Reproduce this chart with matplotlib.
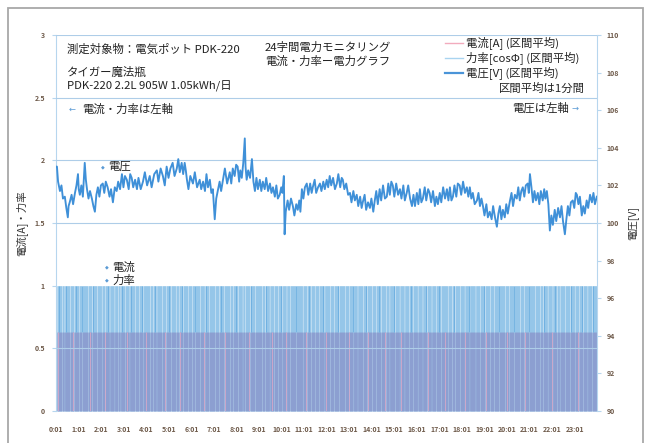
import matplotlib.pyplot as plt
import numpy as np
from matplotlib.patches import Rectangle

plt.rcParams['font.family'] = ['Noto Sans CJK JP', 'DejaVu Sans']

W, H = 651, 443

# voltage, 1-minute averages: (minute of day, V)
voltage_readings = [
    (1, 103.0), (3, 103.0), (6, 102.2), (11, 101.7), (15, 102.0), (19, 101.3), (24, 101.4),
    (28, 100.8), (32, 100.3), (34, 100.9), (37, 101.1), (42, 101.5), (46, 101.0), (51, 101.6),
    (55, 102.0), (59, 102.6), (61, 101.8), (64, 101.5), (68, 102.0), (72, 101.4), (77, 103.2),
    (80, 102.3), (83, 101.8), (87, 101.3), (91, 101.7), (96, 101.3), (100, 100.9), (104, 100.6),
    (108, 101.5), (112, 101.9), (116, 101.4), (120, 102.0), (125, 102.1), (129, 101.6),
    (133, 102.2), (138, 101.9), (143, 101.4), (147, 101.8), (152, 101.1), (157, 101.9),
    (162, 101.7), (166, 102.2), (171, 101.8), (176, 102.6), (180, 101.9), (184, 102.5),
    (189, 102.3), (194, 101.8), (198, 102.6), (202, 102.4), (206, 101.9), (211, 102.3),
    (216, 101.8), (220, 102.4), (226, 101.8), (232, 102.2), (237, 102.7), (243, 102.0),
    (250, 102.5), (255, 101.9), (262, 102.6), (269, 102.8), (273, 102.2), (279, 102.9),
    (285, 102.5), (290, 102.0), (295, 103.0), (300, 102.4), (305, 102.9), (311, 103.2),
    (316, 102.5), (322, 102.9), (326, 103.4), (330, 102.7), (335, 103.2), (339, 102.6),
    (343, 103.2), (346, 102.8), (349, 102.3), (353, 101.8), (358, 102.5), (365, 102.1),
    (370, 102.7), (376, 101.9), (383, 102.3), (387, 101.8), (392, 102.2), (397, 101.7),
    (401, 102.6), (405, 101.9), (410, 102.3), (414, 101.6), (418, 101.8), (423, 100.2),
    (427, 101.3), (431, 101.7), (436, 102.2), (440, 101.7), (445, 102.3), (450, 102.9),
    (456, 102.1), (463, 102.7), (467, 102.1), (471, 102.9), (476, 102.5), (480, 103.1),
    (484, 103.0), (488, 102.2), (491, 102.8), (495, 102.4), (499, 103.2), (503, 104.5),
    (505, 103.0), (508, 102.3), (512, 102.8), (517, 102.4), (522, 103.4), (526, 102.2),
    (530, 101.7), (534, 102.4), (538, 101.8), (543, 102.3), (547, 101.7), (551, 102.2),
    (556, 101.8), (560, 102.4), (565, 101.7), (570, 102.1), (574, 101.6), (578, 101.9),
    (583, 101.4), (587, 102.0), (591, 101.3), (596, 101.5), (600, 101.9), (603, 101.6),
    (607, 102.5), (609, 99.4), (612, 100.6), (617, 101.2), (621, 100.7), (626, 101.3),
    (631, 100.9), (635, 100.4), (640, 101.0), (644, 100.7), (648, 101.2), (651, 100.6),
    (655, 101.8), (659, 101.3), (663, 101.9), (668, 102.1), (672, 101.5), (677, 102.1),
    (681, 101.6), (684, 101.9), (689, 102.3), (693, 101.6), (698, 101.9), (703, 102.1),
    (707, 101.7), (712, 102.2), (716, 101.8), (721, 102.3), (725, 101.9), (729, 102.5),
    (733, 102.0), (738, 102.4), (743, 101.8), (748, 102.1), (752, 102.6), (757, 101.9),
    (761, 102.4), (764, 102.3), (768, 101.8), (773, 102.1), (778, 101.5), (783, 101.6),
    (787, 101.1), (792, 101.7), (796, 101.2), (801, 101.5), (805, 100.9), (810, 101.4),
    (814, 100.8), (817, 101.1), (822, 101.5), (826, 100.7), (831, 101.1), (836, 100.8),
    (840, 101.3), (845, 100.6), (849, 101.2), (853, 101.7), (857, 101.0), (862, 101.8),
    (866, 101.2), (871, 102.0), (876, 101.3), (881, 101.4), (885, 102.1), (889, 101.5),
    (893, 102.2), (897, 102.0), (901, 101.4), (906, 102.1), (911, 101.5), (916, 101.8),
    (920, 101.3), (925, 102.0), (929, 101.2), (934, 101.6), (938, 102.0), (943, 101.3),
    (948, 100.9), (952, 101.5), (956, 100.9), (961, 101.6), (965, 101.0), (969, 101.8),
    (973, 101.1), (977, 101.3), (982, 101.9), (986, 101.2), (991, 101.8), (995, 101.6),
    (999, 101.1), (1004, 101.7), (1009, 100.9), (1013, 101.4), (1017, 101.0), (1022, 101.6),
    (1026, 101.1), (1031, 101.9), (1036, 101.3), (1041, 101.8), (1045, 101.2), (1049, 101.9),
    (1053, 101.2), (1057, 101.4), (1061, 102.0), (1066, 101.4), (1070, 102.1), (1075, 102.0),
    (1079, 101.5), (1084, 102.2), (1089, 101.6), (1094, 101.9), (1098, 101.4), (1102, 101.9),
    (1106, 101.3), (1110, 101.6), (1115, 101.0), (1121, 101.2), (1125, 101.6), (1129, 100.9),
    (1133, 101.3), (1137, 100.9), (1141, 100.4), (1146, 101.0), (1150, 100.3), (1155, 100.6),
    (1160, 100.2), (1164, 100.9), (1169, 100.3), (1174, 99.8), (1178, 100.5), (1182, 100.9),
    (1186, 100.2), (1190, 100.7), (1195, 100.3), (1199, 101.0), (1203, 100.5), (1208, 101.1),
    (1213, 101.6), (1217, 100.9), (1222, 101.5), (1227, 101.3), (1231, 101.9), (1235, 101.2),
    (1239, 101.7), (1243, 101.9), (1247, 101.4), (1251, 102.0), (1256, 102.1), (1259, 101.6),
    (1262, 102.6), (1266, 101.9), (1270, 101.1), (1274, 101.7), (1278, 101.2), (1283, 101.6),
    (1287, 101.0), (1291, 101.7), (1296, 101.2), (1300, 101.8), (1303, 101.3), (1307, 101.7),
    (1311, 101.0), (1315, 99.6), (1319, 100.4), (1323, 99.9), (1328, 100.7), (1332, 100.1),
    (1337, 100.8), (1342, 100.3), (1346, 100.9), (1350, 100.1), (1355, 99.4), (1359, 100.2),
    (1363, 100.9), (1367, 100.4), (1371, 101.1), (1376, 101.2), (1380, 100.8), (1384, 101.6),
    (1387, 101.5), (1391, 101.0), (1395, 101.4), (1400, 100.4), (1404, 100.9), (1408, 100.5),
    (1413, 101.2), (1417, 100.8), (1422, 101.5), (1427, 101.1), (1431, 101.6), (1435, 101.0),
    (1440, 101.4),
]
volt_minute = [m for m, v in voltage_readings]
volt_value = [v for m, v in voltage_readings]

# current / power factor while the heater cycles, and the minutes where both drop out
current_level = 0.63
pf_level = 1.0
off_minutes = [4, 16, 23, 37, 49, 61, 70, 85, 97, 110, 122, 131, 143, 156, 165, 172, 184, 196,
               210, 221, 233, 250, 259, 268, 282, 294, 306, 319, 327, 338, 351, 362, 370, 383,
               396, 408, 423, 434, 447, 463, 472, 485, 497, 503, 516, 530, 548, 557, 569, 580,
               591, 603, 614, 623, 640, 657, 668, 679, 689, 700, 715, 729, 741, 753, 769, 781,
               792, 803, 817, 829, 841, 852, 866, 878, 888, 902, 915, 928, 940, 951, 963, 976,
               988, 1000, 1012, 1026, 1043, 1055, 1063, 1075, 1088, 1101, 1117, 1129, 1142,
               1155, 1167, 1180, 1195, 1206, 1219, 1235, 1247, 1259, 1275, 1288, 1297, 1309,
               1322, 1334, 1341, 1356, 1368, 1381, 1393, 1404, 1415, 1428]
pf_dark_minutes = [8, 28, 55, 70, 100, 140, 175, 200, 230, 265, 300, 335, 370, 400, 440, 480,
                   520, 560, 600, 640, 675, 710, 750, 790, 825, 860, 900, 945, 985, 1020,
                   1060, 1100, 1140, 1180, 1220, 1260, 1300, 1330, 1370, 1400, 1430]
current_pink_minutes = [5, 45, 92, 130, 190, 240, 290, 330, 395, 450, 515, 575, 612, 665, 720,
                        780, 830, 875, 920, 990, 1035, 1090, 1145, 1200, 1250, 1320, 1390]

hour_labels = ['%d:01' % h for h in range(24)]

minutes = np.arange(1, 1441)
on = ~np.isin(minutes, off_minutes)
pf = np.where(on, pf_level, 0.0)
cur = np.where(on, current_level, 0.0)

fig = plt.figure(figsize=(W / 100, H / 100), dpi=100)
fig.patches.append(Rectangle((8 / W, -0.01), 635 / W, 1 - 8 / H + 0.01, transform=fig.transFigure,
                             fill=False, ec='#a8a8a8', lw=1.3))

ax = fig.add_axes([56 / W, 1 - 411 / H, 541 / W, 376 / H])
ax.fill_between(minutes, 0, pf, step='mid', color='#95c6e9', lw=0, zorder=1)
ax.fill_between(minutes, 0, cur, step='mid', color='#8c9fd1', lw=0, zorder=2)
ax.vlines(pf_dark_minutes, current_level, pf_level, color='#6aaee0', lw=0.6, zorder=3)
ax.vlines(current_pink_minutes, 0, current_level, color='#d6a8c8', lw=0.6, zorder=3)
for yv in [0.5, 1.5, 2, 2.5, 3]:
    ax.axhline(yv, color='#aecde8', lw=0.8, zorder=4)

ax.set_xlim(0.5, 1440.5)
ax.set_ylim(0, 3)
ax.set_yticks([0, 0.5, 1, 1.5, 2, 2.5, 3])
ax.set_yticklabels(['0', '0.5', '1', '1.5', '2', '2.5', '3'])
ax.set_xticks([1 + 60 * h for h in range(24)])
ax.set_xticklabels(hour_labels)
for s in ax.spines.values():
    s.set_visible(False)
ax.spines['left'].set_visible(True)
ax.spines['left'].set_color('#b7d6ee')
ax.tick_params(axis='y', labelsize=5, colors='#b7d6ee', labelcolor='#6e5a4a', length=3, pad=5)
ax.tick_params(axis='x', labelsize=5, length=0, labelcolor='#6e5a4a', pad=11)
ax.set_ylabel('電流[A]・力率', fontsize=7.5, color='#333333', labelpad=5)

ax2 = ax.twinx()
ax2.plot(volt_minute, volt_value, color='#3f90d8', lw=1.35, zorder=5)
ax2.set_ylim(90, 110)
ax2.set_yticks(range(90, 111, 2))
for s in ax2.spines.values():
    s.set_visible(False)
ax2.spines['right'].set_visible(True)
ax2.spines['right'].set_color('#b7d6ee')
ax2.tick_params(axis='y', labelsize=5, colors='#b7d6ee', labelcolor='#6e5a4a', length=3, pad=4)
ax2.set_ylabel('電圧[V]', fontsize=7.5, color='#333333', labelpad=6)

for lab in ax.get_xticklabels() + ax.get_yticklabels() + ax2.get_yticklabels():
    lab.set_fontweight('bold')


def t(x, y, s, **kw):
    kw.setdefault('fontsize', 8.2)
    kw.setdefault('color', '#222222')
    kw.setdefault('va', 'center')
    fig.text(x / W, 1 - y / H, s, **kw)


t(67, 49, '測定対象物：電気ポット PDK-220')
t(67, 72, 'タイガー魔法瓶')
t(67, 86, 'PDK-220 2.2L 905W 1.05kWh/日')
t(328, 47, '24字間電力モニタリング', ha='center')
t(328, 61, '電流・力率ー電力グラフ', ha='center')

leg = [('電流[A] (区間平均)', '#f2abbd', 1.0, 43),
       ('力率[cosΦ] (区間平均)', '#a9d4f0', 1.0, 58),
       ('電圧[V] (区間平均)', '#4a94d8', 1.6, 73)]
for label, col, lw, y in leg:
    fig.add_artist(plt.Line2D([445 / W, 463 / W], [1 - y / H, 1 - y / H], color=col, lw=lw,
                              transform=fig.transFigure))
    t(466, y, label)
t(585, 88, '区間平均は1分間', ha='right')

t(69, 109, '←', fontsize=6, color='#5b9bd5', family='DejaVu Sans')
t(82, 109, '電流・力率は左軸')
t(569, 108, '電圧は左軸', ha='right')
t(572, 108, '→', fontsize=6, color='#5b9bd5', family='DejaVu Sans')

t(101, 167, '◆', fontsize=3.5, color='#5b9bd5', family='DejaVu Sans')
t(108, 167, '電圧')
t(105, 267, '◆', fontsize=3.5, color='#5b9bd5', family='DejaVu Sans')
t(112, 267, '電流')
t(105, 280, '◆', fontsize=3.5, color='#5b9bd5', family='DejaVu Sans')
t(112, 280, '力率')

fig.savefig('out.png', dpi=100)
